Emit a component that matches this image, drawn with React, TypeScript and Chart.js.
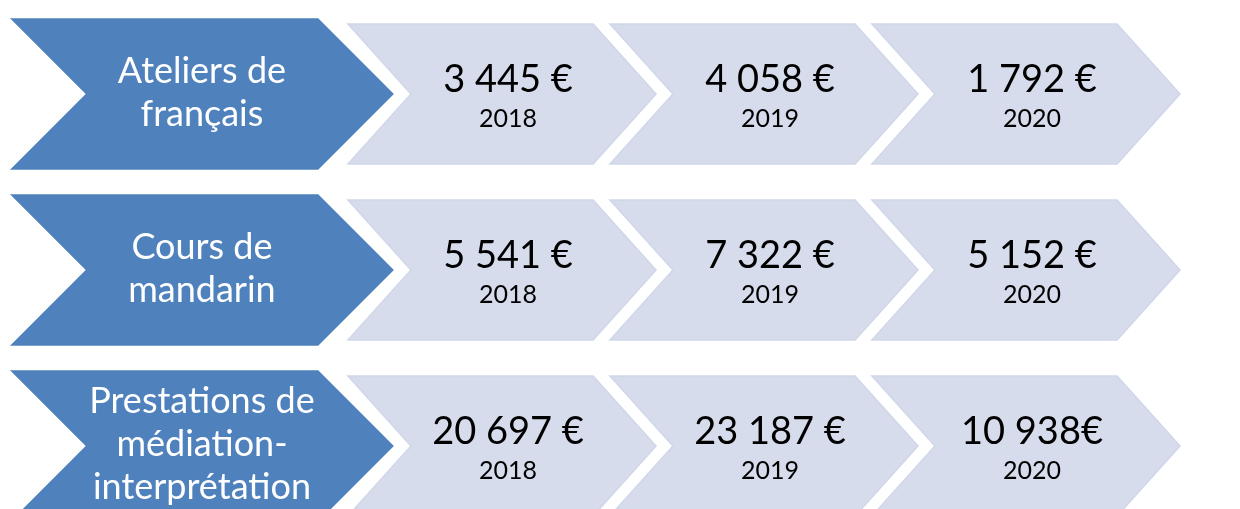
import { useEffect, useRef } from 'react';
import { Chart, registerables } from 'chart.js';

Chart.register(...registerables);

// ---- data ----
const columns = ['Activité', '2018', '2019', '2020'];
const activities = [
  'Ateliers de français',
  'Cours de mandarin',
  'Prestations de médiation-interprétation',
];
const activityLines = [
  ['Ateliers de', 'français'],
  ['Cours de', 'mandarin'],
  ['Prestations de', 'médiation-', 'interprétation'],
];
const years = ['2018', '2019', '2020'];
const amounts2018 = ['3 445 €', '5 541 €', '20 697 €'];
const amounts2019 = ['4 058 €', '7 322 €', '23 187 €'];
const amounts2020 = ['1 792 €', '5 152 €', '10 938€'];

const BLUE = '#4f81bd';
const LIGHT = '#d6dceb';
const LIGHT_EDGE = '#d0d7e9';
const FONT = 'Lato, Carlito, Calibri, "Open Sans", sans-serif';

function chevronPath(ctx: CanvasRenderingContext2D, left: number, tip: number, cy: number, h: number, depth: number) {
  const top = cy - h / 2;
  const bot = cy + h / 2;
  ctx.beginPath();
  ctx.moveTo(left, top);
  ctx.lineTo(tip - depth, top);
  ctx.lineTo(tip, cy);
  ctx.lineTo(tip - depth, bot);
  ctx.lineTo(left, bot);
  ctx.lineTo(left + depth, cy);
  ctx.closePath();
}

const chevronPlugin = {
  id: 'chevrons',
  afterDatasetsDraw(chart: any) {
    const ctx: CanvasRenderingContext2D = chart.ctx;
    const xs = chart.scales.x;
    const ys = chart.scales.y;
    const colBand = xs.getPixelForValue(1) - xs.getPixelForValue(0);
    const rowBand = ys.getPixelForValue(1) - ys.getPixelForValue(0);
    const lightW = colBand * 1.176;
    const lightH = rowBand * 0.795;
    const lightDepth = lightH * 0.45;
    const blueH = rowBand * 0.86;
    const blueDepth = blueH * 0.5;
    const gap = 17;

    ctx.save();
    chart.data.datasets.forEach((ds: any, di: number) => {
      const meta = chart.getDatasetMeta(di);
      meta.data.forEach((el: any, i: number) => {
        const cx = el.x;
        const cy = el.y;
        if (ds.kind === 'label') {
          // blue header chevron: ends just before the first value chevron
          const nextCx = xs.getPixelForValue(1);
          const nextNotch = nextCx - lightW / 2 + lightDepth;
          const tip = nextNotch - gap;
          const left = 10;
          chevronPath(ctx, left, tip, cy, blueH, blueDepth);
          ctx.fillStyle = BLUE;
          ctx.fill();
          const lines = activityLines[i];
          const mid = (left + tip) / 2;
          ctx.fillStyle = '#ffffff';
          ctx.font = `36px ${FONT}`;
          ctx.textAlign = 'center';
          ctx.textBaseline = 'alphabetic';
          lines.forEach((ln, k) => {
            const y = cy + 10 + (k - (lines.length - 1) / 2) * 43;
            ctx.fillText(ln, mid, y);
          });
        } else {
          const left = cx - lightW / 2;
          const tip = cx + lightW / 2;
          chevronPath(ctx, left, tip, cy, lightH, lightDepth);
          ctx.fillStyle = LIGHT;
          ctx.fill();
          ctx.strokeStyle = LIGHT_EDGE;
          ctx.lineWidth = 1.5;
          ctx.stroke();
          ctx.fillStyle = '#000000';
          ctx.textAlign = 'center';
          ctx.textBaseline = 'alphabetic';
          ctx.font = `38px ${FONT}`;
          ctx.fillText(ds.texts[i], cx + 6, cy - 2);
          ctx.font = `25px ${FONT}`;
          ctx.fillText(ds.label, cx + 6, cy + 33);
        }
      });
    });
    ctx.restore();
  },
};

export default function App() {
  const ref = useRef<HTMLCanvasElement | null>(null);

  useEffect(() => {
    document.body.style.margin = '0';
    document.body.style.overflow = 'hidden';
    if (!ref.current) return;
    const amountSets = [amounts2018, amounts2019, amounts2020];
    const chart = new Chart(ref.current, {
      type: 'scatter',
      data: {
        datasets: [
          {
            label: columns[0],
            kind: 'label',
            data: activities.map((a) => ({ x: columns[0], y: a })),
            pointRadius: 0,
            pointHoverRadius: 0,
          } as any,
          ...years.map((yr, j) => ({
            label: yr,
            kind: 'value',
            texts: amountSets[j],
            data: activities.map((a) => ({ x: yr, y: a })),
            pointRadius: 0,
            pointHoverRadius: 0,
          })) as any,
        ],
      },
      options: {
        animation: false,
        responsive: false,
        maintainAspectRatio: false,
        events: [],
        layout: { padding: { left: 109, right: 83, top: 6, bottom: 1 } },
        plugins: { legend: { display: false }, tooltip: { enabled: false } },
        scales: {
          x: { type: 'category', labels: columns, offset: true, display: false },
          y: { type: 'category', labels: activities, offset: true, display: false },
        },
      },
      plugins: [chevronPlugin],
    });
    return () => chart.destroy();
  }, []);

  return (
    <div style={{ width: 1240, height: 509, overflow: 'hidden', background: '#ffffff' }}>
      <canvas ref={ref} width={1240} height={535} style={{ display: 'block' }} />
    </div>
  );
}
